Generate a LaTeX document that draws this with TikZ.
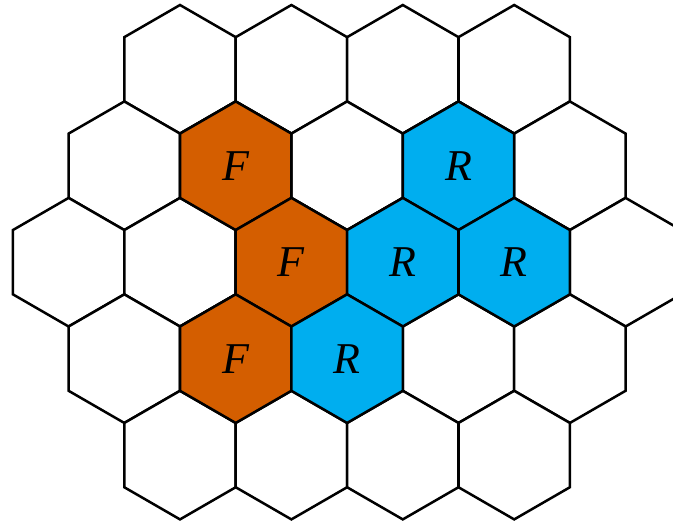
\documentclass[tikz,border=0pt]{standalone}
\usepackage{fontspec}
\setmainfont{Liberation Serif}
\definecolor{forange}{RGB}{212,94,0}
\definecolor{rblue}{RGB}{0,174,239}
\tikzset{
  hexline/.style={draw=black, line width=2.5pt, line join=miter},
  lab/.style={font=\fontsize{44}{44}\selectfont\itshape, inner sep=0pt, text=black}
}
\newcommand\hexR{64.3}
\newcommand\hexcell[2]{\draw[hexline, fill=#2] (#1) +(90:\hexR) -- +(150:\hexR) -- +(210:\hexR) -- +(270:\hexR) -- +(330:\hexR) -- +(30:\hexR) -- cycle;}
\begin{document}
\begin{tikzpicture}[x=1pt,y=1pt]
\useasboundingbox (0,0) rectangle (673,523);
\clip (0,0) rectangle (673,523);
\foreach \row/\first/\n in {1/180/4, 2/124.3/5, 3/68.6/6, 4/124.3/5, 5/180/4} {
  \pgfmathsetmacro\yy{523-69.3-96.45*(\row-1)}
  \foreach \k in {1,...,\n} {
    \pgfmathsetmacro\xx{\first+111.4*(\k-1)}
    \coordinate (h\row-\k) at (\xx,\yy);
    \hexcell{h\row-\k}{white}
  }
}
\hexcell{h2-2}{forange}
\hexcell{h3-3}{forange}
\hexcell{h4-2}{forange}
\hexcell{h2-4}{rblue}
\hexcell{h3-4}{rblue}
\hexcell{h3-5}{rblue}
\hexcell{h4-3}{rblue}
\node[lab] (f1) at (h2-2) {F};
\node[lab] (f2) at (h3-3) {F};
\node[lab] (f3) at (h4-2) {F};
\node[lab] (r1) at (h2-4) {R};
\node[lab] (r2) at (h3-4) {R};
\node[lab] (r3) at (h3-5) {R};
\node[lab] (r4) at (h4-3) {R};
\end{tikzpicture}
\end{document}
